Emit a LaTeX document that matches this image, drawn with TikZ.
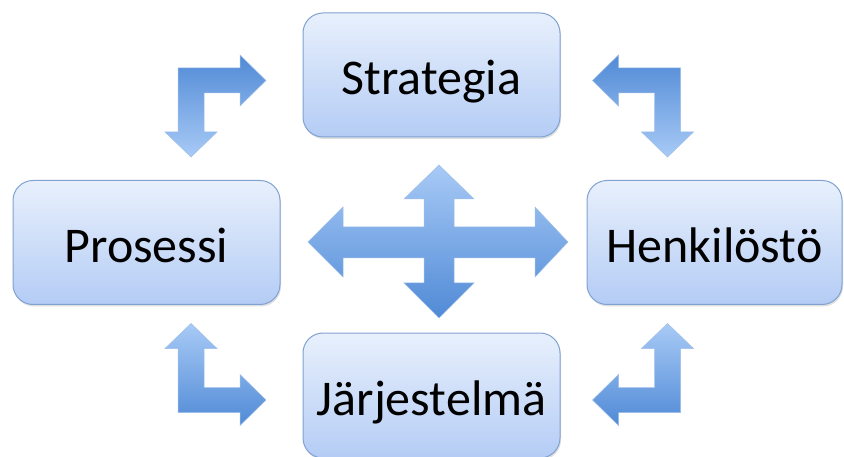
\documentclass[tikz,border=0pt]{standalone}
\usepackage{fontspec}
\setmainfont{Carlito}
\usetikzlibrary{shadows}

\definecolor{boxtop}{RGB}{232,240,252}
\definecolor{boxbottom}{RGB}{180,204,245}
\definecolor{boxline}{RGB}{128,162,210}
\definecolor{arrdark}{RGB}{80,138,214}
\definecolor{arrlight}{RGB}{168,202,246}

% bent block arrow, outer corner at the origin
\newcommand{\bentarrow}[2]{%
\begin{scope}[#1]
\shade[blockarrow,#2] (0,0) -- (62,0) -- (62,-13) -- (88,12.5) -- (62,38) -- (62,25)
  -- (26,25) -- (26,64) -- (39,64) -- (13,89) -- (-13,64) -- (0,64) -- cycle;
\end{scope}}

\begin{document}
\begin{tikzpicture}[x=1pt,y=-1pt,
  box/.style={draw=boxline, line width=1pt, rounded corners=20pt,
    top color=boxtop, bottom color=boxbottom,
    drop shadow={opacity=.25, shadow xshift=1pt, shadow yshift=-2pt},
    minimum height=124pt, inner sep=0pt, text height=40pt, text depth=0pt,
    font=\fontsize{50}{60}\selectfont},
  blockarrow/.style={draw=arrdark!55!white, line width=.5pt}]
\useasboundingbox (0,0) rectangle (844,457);

\node[box, minimum width=257pt](S) at (431.5,75){Strategia};
\node[box, minimum width=267pt](P) at (146.5,242.5){Prosessi};
\node[box, minimum width=255pt](H) at (714.5,242.5){Henkilöstö};
\node[box, minimum width=257pt, minimum height=125pt](J) at (431.5,395.5){Järjestelmä};

% corner arrows
\bentarrow{shift={(178,68)}}{top color=arrdark, bottom color=arrlight}
\bentarrow{shift={(680.5,68)}, xscale=-1}{top color=arrdark, bottom color=arrlight}
\bentarrow{shift={(178,412.5)}, yscale=-1}{top color=arrlight, bottom color=arrdark}
\bentarrow{shift={(680.5,412.5)}, xscale=-1, yscale=-1}{top color=arrlight, bottom color=arrdark}

% cross in the middle
\shade[blockarrow, top color=arrlight, bottom color=arrdark]
  (439,165) -- (474,199) -- (454,199) -- (454,227) -- (535,227) -- (535,207)
  -- (568,242) -- (535,277) -- (535,258) -- (454,258) -- (454,283) -- (474,283)
  -- (439,318) -- (404,283) -- (424,283) -- (424,258) -- (343,258) -- (343,277)
  -- (308,242) -- (343,207) -- (343,227) -- (424,227) -- (424,199) -- (404,199) -- cycle;
\end{tikzpicture}
\end{document}
